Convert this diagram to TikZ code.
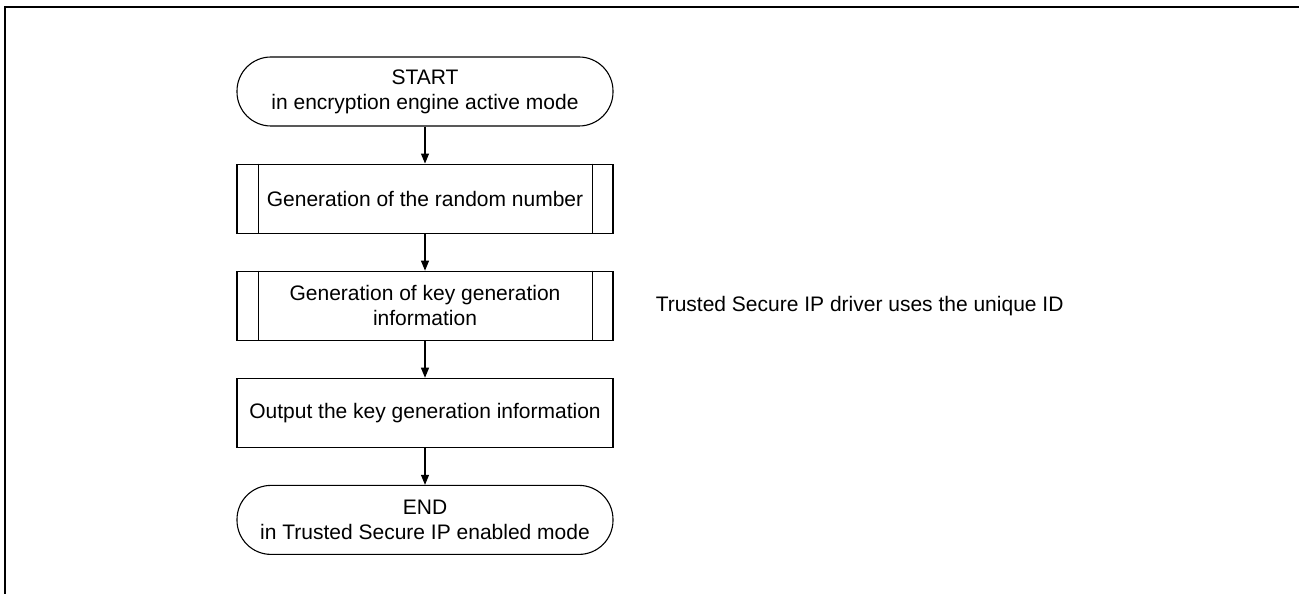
\documentclass[tikz,border=0pt]{standalone}
\usepackage{fontspec}
\setmainfont{Liberation Sans}
\usetikzlibrary{arrows.meta,positioning}

\begin{document}
\begin{tikzpicture}[x=1pt,y=1pt,>={Triangle[length=10pt,width=8pt]},
  term/.style={draw,line width=1.1pt,rounded corners=34pt,minimum width=376pt,minimum height=69pt,align=center,inner sep=0pt},
  proc/.style={draw,line width=1.1pt,minimum width=376pt,minimum height=69pt,align=center,inner sep=0pt},
  link/.style={->,line width=1.1pt},
  node distance=37pt,
  font=\fontsize{21}{25}\selectfont]
\useasboundingbox (0,0) rectangle (1299,594);
\draw[line width=2.5pt] (5,0) -- (5,587) -- (1299,587);
\node[term] (start) at (425,502.5) {START\\in encryption engine active mode};
\node[proc,below=of start] (rnd) {Generation of the random number};
\node[proc,below=of rnd] (kgi) {Generation of key generation\\information};
\node[proc,below=of kgi] (out) {Output the key generation information};
\node[term,below=of out] (end) {END\\in Trusted Secure IP enabled mode};
\node[right=42pt of kgi,inner sep=0pt] (note) {Trusted Secure IP driver uses the unique ID};
% side bars of the predefined processes
\foreach \b in {rnd,kgi}{
  \draw[line width=1.1pt] ([xshift=22pt]\b.north west) -- ([xshift=22pt]\b.south west);
  \draw[line width=1.1pt] ([xshift=-21pt]\b.north east) -- ([xshift=-21pt]\b.south east);
}
\draw[link] (start) -- (rnd);
\draw[link] (rnd) -- (kgi);
\draw[link] (kgi) -- (out);
\draw[link] (out) -- (end);
\end{tikzpicture}
\end{document}
